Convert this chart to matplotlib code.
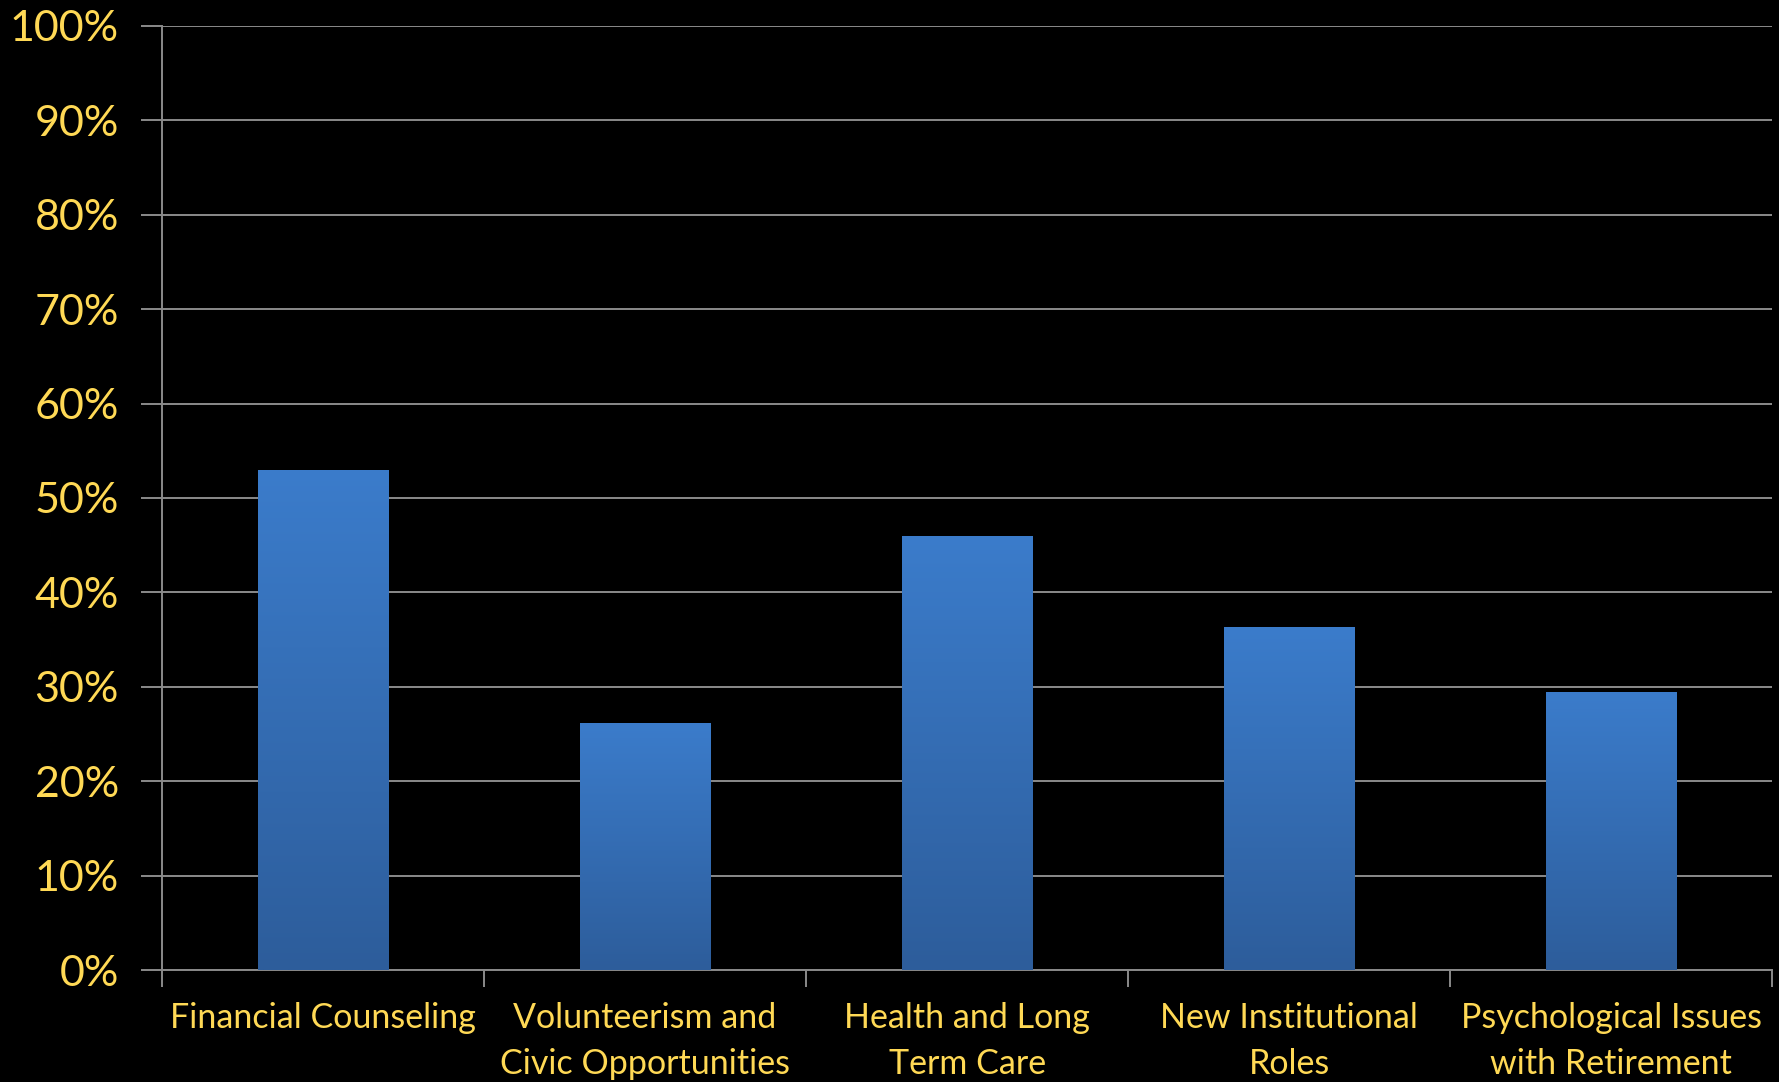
import matplotlib
matplotlib.use("Agg")
import matplotlib.pyplot as plt
import numpy as np
from matplotlib.colors import LinearSegmentedColormap

categories = ["Financial Counseling", "Volunteerism and\nCivic Opportunities",
              "Health and Long\nTerm Care", "New Institutional\nRoles",
              "Psychological Issues\nwith Retirement"]
values = [53.0, 26.2, 46.0, 36.3, 29.5]
y_ticks = list(range(0, 101, 10))
y_labels = [f"{t}%" for t in y_ticks]

gold = "#FFD955"
grey = "#8A8A8A"

plt.rcParams['font.family'] = ['Lato', 'DejaVu Sans']

fig = plt.figure(figsize=(17.79, 10.82), dpi=100, facecolor="black")
ax = fig.add_axes([0.0911, 0.1035, 0.905, 0.8725], facecolor="black")

x = np.arange(len(categories))
bars = ax.bar(x, values, width=0.405, color="none", zorder=3)

# vertical gradient on each bar
cmap = LinearSegmentedColormap.from_list("bar", ["#2D5D9B", "#3B7CCB"])
grad = np.linspace(0, 1, 256).reshape(-1, 1)
for b in bars:
    x0, w, h = b.get_x(), b.get_width(), b.get_height()
    im = ax.imshow(grad, cmap=cmap, aspect="auto", origin="lower",
                   extent=[x0, x0 + w, 0, h], zorder=3)
    im.set_clip_path(b)

ax.set_xlim(-0.5, len(categories) - 0.5)
ax.set_ylim(0, 100)

ax.set_yticks(y_ticks)
ax.set_yticklabels(y_labels)
ax.yaxis.grid(True, color=grey, lw=1.4, zorder=1)
ax.set_axisbelow(True)

ax.set_xticks(np.arange(-0.5, len(categories), 1.0))
ax.set_xticklabels([])
ax.set_xticks(x, minor=True)
ax.set_xticklabels(categories, minor=True, linespacing=1.55)

ax.tick_params(axis="y", colors=grey, labelcolor=gold, labelsize=31,
               length=15, width=1.4, pad=16)
ax.tick_params(axis="x", which="major", colors=grey, length=12, width=1.4)
ax.tick_params(axis="x", which="minor", length=0, labelcolor=gold,
               labelsize=24.5, pad=23)
for lab in ax.get_xticklabels(minor=True):
    lab.set_verticalalignment("top")

for side in ["top", "right"]:
    ax.spines[side].set_visible(False)
for side in ["left", "bottom"]:
    ax.spines[side].set_color(grey)
    ax.spines[side].set_linewidth(1.4)

fig.savefig("out.png", dpi=100, facecolor="black")
